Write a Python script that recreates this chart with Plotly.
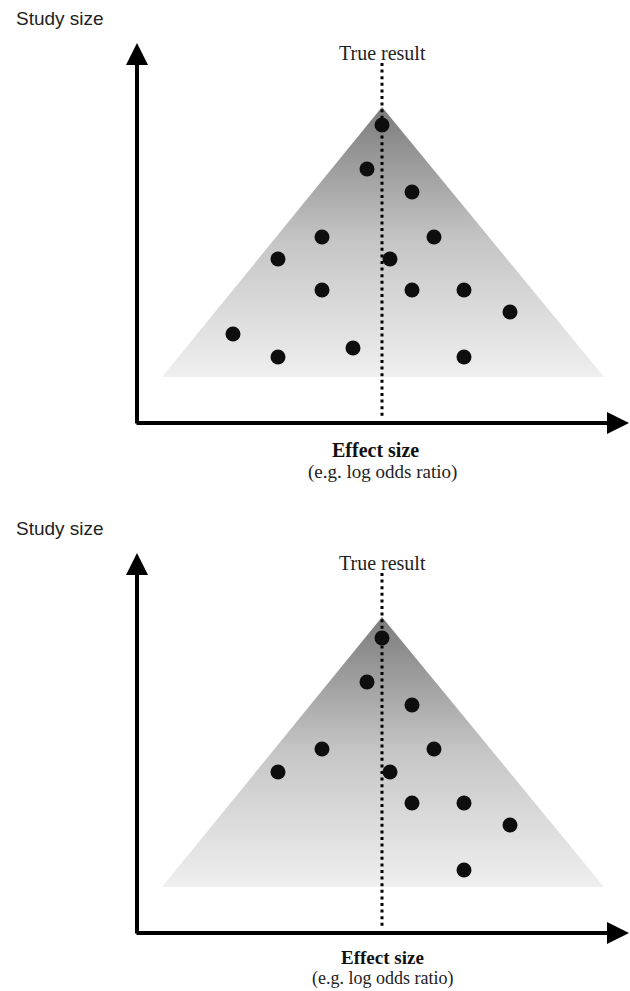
import plotly.graph_objects as go

# ---------------- data ----------------
true_effect = 0.0

# top panel: all studies (effect size, study size)
top_effect = [0.00, -0.15, 0.30, -0.60, 0.52, -1.04, 0.08, -0.60, 0.30, 0.82, 1.28, -1.49, -1.04, -0.29, 0.82]
top_size = [252, 208, 185, 140, 140, 118, 118, 87, 87, 87, 65, 43, 20, 29, 20]

# bottom panel: small studies with negative results missing
bot_effect = [0.00, -0.15, 0.30, -0.60, 0.52, -1.04, 0.08, 0.30, 0.82, 1.28, 0.82]
bot_size = [249, 205, 182, 138, 138, 115, 115, 84, 84, 62, 17]

# funnel (expected spread)
funnel_x = [-2.20, 0.00, 2.22, -2.20]
funnel_y = [0, 270, 0, 0]

W, H = 630, 991
PX = 100.0  # pixels per effect unit


def px_x(p):
    return (p - 382) / PX


fig = go.Figure()

panels = [
    dict(xa="x", ya="y", eff=top_effect, size=top_size, off=0,
         eff_lbl=(375, 450, 20), sub_lbl=(472, 19)),
    dict(xa="x2", ya="y2", eff=bot_effect, size=bot_size, off=510,
         eff_lbl=(382, 957, 19), sub_lbl=(978, 18)),
]

annotations = []
for p in panels:
    # funnel with vertical gradient
    fig.add_trace(go.Scatter(
        x=funnel_x, y=funnel_y, xaxis=p["xa"], yaxis=p["ya"],
        mode="lines", fill="toself", line=dict(width=0, color="rgba(0,0,0,0)"),
        fillgradient=dict(type="vertical",
                          colorscale=[[0, "#efefef"], [0.5, "#c6c6c6"], [1, "#7c7c7c"]]),
        hoverinfo="skip", showlegend=False))
    # true result dotted line
    fig.add_trace(go.Scatter(
        x=[true_effect, true_effect], y=[314, -40], xaxis=p["xa"], yaxis=p["ya"],
        mode="lines", line=dict(color="black", width=3, dash="3px,3.6px"),
        hoverinfo="skip", showlegend=False))
    # studies
    fig.add_trace(go.Scatter(
        x=p["eff"], y=p["size"], xaxis=p["xa"], yaxis=p["ya"],
        mode="markers", marker=dict(size=15, color="#0e0e0e", line=dict(width=0)),
        hoverinfo="skip", showlegend=False))
    # axis arrows
    xr, yr = p["xa"], p["ya"]
    annotations.append(dict(x=px_x(137), y=334, ax=px_x(137), ay=-48, xref=xr, yref=yr,
                            axref=xr, ayref=yr, text="", showarrow=True, arrowhead=2,
                            arrowwidth=4, arrowsize=1.1, arrowcolor="black", standoff=0))
    annotations.append(dict(x=px_x(629), y=-46, ax=px_x(135), ay=-46, xref=xr, yref=yr,
                            axref=xr, ayref=yr, text="", showarrow=True, arrowhead=2,
                            arrowwidth=4, arrowsize=1.1, arrowcolor="black", standoff=0))
    o = p["off"]
    ex, ey, es = p["eff_lbl"]
    sy, ss = p["sub_lbl"]
    annotations += [
        dict(text="Study size", x=14 / W, y=1 - (18 + o) / H, xref="paper", yref="paper",
             xanchor="left", yanchor="middle", showarrow=False,
             font=dict(family="Liberation Sans, Arial", size=19, color="#222222")),
        dict(text="True result", x=383 / W, y=1 - (53 + o) / H, xref="paper", yref="paper",
             xanchor="center", yanchor="middle", showarrow=False,
             font=dict(family="Liberation Serif, Times New Roman", size=20, color="#222222")),
        dict(text="<b>Effect size</b>", x=ex / W, y=1 - ey / H,
             xref="paper", yref="paper", xanchor="center", yanchor="middle", showarrow=False,
             font=dict(family="Liberation Serif, Times New Roman", size=es, color="#111111")),
        dict(text="(e.g. log odds ratio)", x=382 / W, y=1 - sy / H,
             xref="paper", yref="paper", xanchor="center", yanchor="middle", showarrow=False,
             font=dict(family="Liberation Serif, Times New Roman", size=ss, color="#222222")),
    ]

xrange = [px_x(0), px_x(W)]
fig.update_layout(
    width=W, height=H, margin=dict(l=0, r=0, t=0, b=0, pad=0),
    paper_bgcolor="white", plot_bgcolor="white", showlegend=False, hovermode=False,
    xaxis=dict(domain=[0, 1], range=xrange, visible=False, anchor="y"),
    yaxis=dict(domain=[0.5, 1], range=[377 - 495.5, 377], visible=False, anchor="x"),
    xaxis2=dict(domain=[0, 1], range=xrange, visible=False, anchor="y2"),
    yaxis2=dict(domain=[0, 0.5], range=[887 - 991, 887 - 495.5], visible=False, anchor="x2"),
    annotations=annotations,
)

fig.write_html("out.html", config={"displayModeBar": False},
               post_script="document.body.style.margin='0';")
